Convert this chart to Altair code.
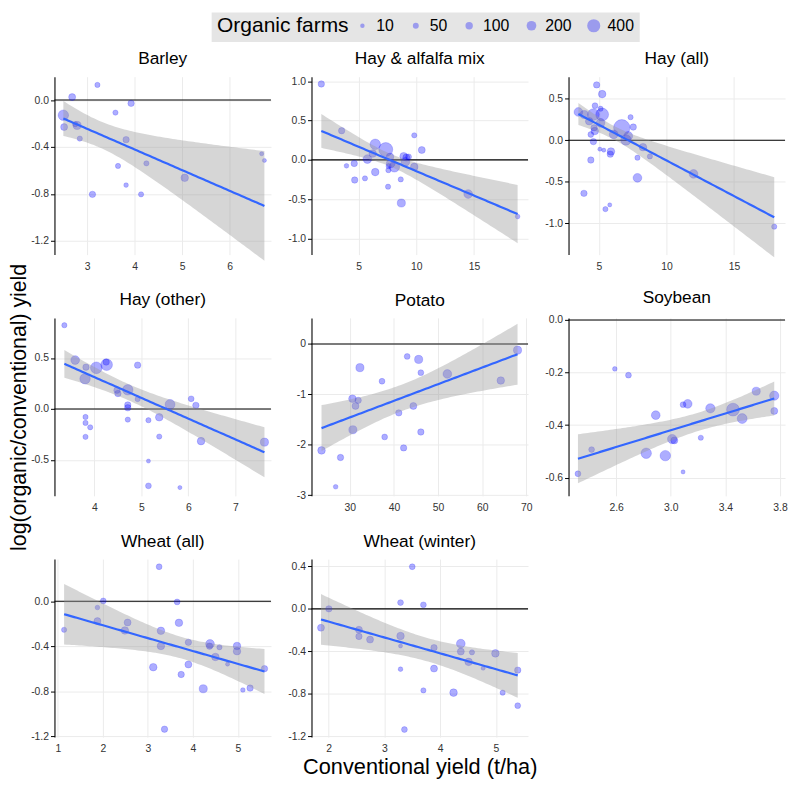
import numpy as np
import pandas as pd
import altair as alt

FONT = "Liberation Sans"

# ---------------- data ----------------
barley_x = [2.50, 2.685, 3.217, 3.925, 3.596, 2.516, 2.79, 2.75, 2.846, 3.82, 3.65, 4.247, 3.82, 3.112, 4.135, 5.053, 6.672, 6.73]
barley_y = [-0.129, 0.025, 0.129, -0.028, -0.107, -0.230, -0.216, -0.205, -0.328, -0.337, -0.561, -0.539, -0.724, -0.803, -0.803, -0.662, -0.457, -0.514]
barley_n = [240, 85, 30, 65, 30, 85, 130, 30, 30, 65, 30, 30, 16, 65, 30, 107, 5, 3]

hayalf_x = [1.77, 3.53, 3.95, 4.62, 4.66, 5.55, 5.76, 6.44, 6.44, 6.22, 7.35, 7.72, 7.78, 8.10, 7.60, 7.58, 7.55, 8.65, 8.70, 8.90, 9.13, 9.05, 9.33, 9.82, 9.82, 10.47, 14.49, 18.77]
hayalf_y = [0.966, 0.371, -0.076, -0.046, -0.257, -0.236, 0.010, 0.198, -0.156, 0.080, 0.131, 0.038, -0.046, -0.089, -0.080, -0.131, -0.342, -0.249, -0.550, 0.046, 0.030, -0.025, 0.038, -0.090, 0.312, 0.125, -0.435, -0.722]
hayalf_n = [65, 65, 16, 65, 65, 30, 155, 240, 107, 107, 460, 107, 155, 240, 30, 30, 30, 30, 130, 107, 85, 155, 47, 107, 30, 85, 155, 16]

hayall_x = [4.83, 5.24, 4.71, 3.48, 3.91, 4.59, 5.24, 5.12, 4.28, 5.12, 4.64, 4.69, 4.40, 4.59, 6.69, 6.09, 7.17, 7.00, 7.34, 7.54, 8.26, 8.77, 7.85, 7.85, 5.07, 5.36, 5.89, 5.84, 4.40, 3.89, 5.48, 5.80, 12.0, 17.97]
hayall_y = [0.667, 0.556, 0.417, 0.341, 0.310, 0.310, 0.310, 0.380, 0.230, 0.210, 0.150, 0.111, 0.070, -0.016, 0.151, 0.071, 0.052, 0.004, 0.278, 0.159, -0.083, -0.194, -0.210, -0.452, -0.107, -0.119, -0.135, -0.167, -0.238, -0.639, -0.829, -0.778, -0.405, -1.040]
hayall_n = [65, 107, 47, 155, 130, 307, 380, 30, 107, 155, 65, 107, 47, 65, 640, 155, 155, 240, 30, 65, 107, 30, 30, 155, 3, 3, 107, 65, 65, 65, 30, 3, 155, 30]

hayoth_x = [3.36, 3.59, 3.82, 3.80, 4.04, 4.26, 4.25, 4.92, 4.48, 4.50, 4.71, 4.92, 4.71, 4.71, 5.61, 6.06, 6.16, 3.81, 3.81, 3.91, 3.81, 4.71, 5.15, 5.38, 5.38, 6.27, 7.62, 5.15, 5.15, 5.82]
hayoth_y = [0.821, 0.480, 0.410, 0.297, 0.404, 0.434, 0.460, 0.430, 0.184, 0.152, 0.188, 0.097, 0.040, 0.012, 0.045, 0.100, 0.036, -0.078, -0.136, -0.179, -0.273, -0.104, -0.110, -0.081, -0.270, -0.315, -0.325, -0.510, -0.753, -0.770]
hayoth_n = [30, 155, 65, 240, 307, 307, 65, 65, 65, 65, 240, 30, 65, 65, 210, 47, 65, 30, 30, 30, 30, 30, 30, 107, 30, 107, 130, 3, 47, 3]

potato_x = [68.0, 64.2, 52.1, 45.6, 43.0, 46.1, 32.3, 37.3, 30.6, 31.9, 31.3, 30.7, 41.1, 44.4, 37.9, 46.1, 42.2, 23.6, 27.9, 26.8]
potato_y = [-0.124, -0.725, -0.595, -0.307, -0.248, -0.569, -0.470, -0.739, -1.085, -1.118, -1.229, -1.700, -1.366, -1.229, -1.843, -1.745, -2.060, -2.110, -2.250, -2.830]
potato_n = [130, 107, 155, 130, 47, 47, 130, 47, 107, 65, 85, 130, 65, 85, 47, 65, 65, 107, 65, 16]

soy_x = [2.59, 2.69, 2.42, 2.32, 2.82, 2.89, 2.96, 3.01, 3.026, 3.09, 3.124, 3.09, 3.22, 3.29, 3.456, 3.523, 3.626, 3.758, 3.758]
soy_y = [-0.186, -0.210, -0.493, -0.585, -0.507, -0.362, -0.516, -0.453, -0.458, -0.322, -0.319, -0.578, -0.448, -0.336, -0.341, -0.375, -0.271, -0.288, -0.346]
soy_n = [16, 47, 47, 47, 240, 155, 240, 182, 85, 47, 155, 3, 30, 182, 380, 210, 130, 182, 85]

wheat_x = [3.25, 2.01, 1.88, 3.65, 1.14, 1.88, 2.55, 2.49, 3.69, 3.29, 3.29, 3.90, 4.38, 4.37, 4.59, 4.50, 4.77, 4.98, 4.98, 3.12, 3.90, 3.74, 4.23, 5.11, 5.27, 5.59, 3.37]
wheat_y = [0.307, 0.003, -0.056, -0.006, -0.254, -0.177, -0.189, -0.260, -0.192, -0.263, -0.398, -0.366, -0.380, -0.400, -0.410, -0.496, -0.560, -0.398, -0.445, -0.587, -0.563, -0.652, -0.779, -0.790, -0.773, -0.600, -1.139]
wheat_n = [47, 47, 16, 47, 30, 85, 85, 107, 107, 107, 107, 65, 155, 65, 30, 107, 3, 107, 107, 107, 85, 65, 130, 16, 65, 65, 65]

wwin_x = [3.50, 3.29, 3.70, 2.006, 1.865, 2.545, 2.545, 2.744, 3.29, 3.29, 3.89, 4.37, 4.37, 4.57, 4.51, 4.99, 4.77, 3.29, 3.89, 3.70, 4.24, 5.12, 5.39, 5.39, 3.36]
wwin_y = [0.397, 0.059, 0.038, 0.0, -0.178, -0.197, -0.260, -0.290, -0.256, -0.350, -0.366, -0.328, -0.403, -0.410, -0.500, -0.420, -0.560, -0.569, -0.563, -0.769, -0.790, -0.790, -0.578, -0.913, -1.138]
wwin_n = [47, 47, 47, 65, 85, 85, 65, 85, 107, 3, 65, 155, 85, 30, 107, 107, 3, 16, 85, 30, 107, 30, 65, 47, 47]

crops = ["Barley", "Hay & alfalfa mix", "Hay (all)", "Hay (other)", "Potato", "Soybean", "Wheat (all)", "Wheat (winter)"]
legend_values = [10, 50, 100, 200, 400]

x_ticks = {
    "Barley": [3, 4, 5, 6], "Hay & alfalfa mix": [5, 10, 15], "Hay (all)": [5, 10, 15],
    "Hay (other)": [4, 5, 6, 7], "Potato": [30, 40, 50, 60, 70], "Soybean": [2.6, 3.0, 3.4, 3.8],
    "Wheat (all)": [1, 2, 3, 4, 5], "Wheat (winter)": [2, 3, 4, 5],
}
y_ticks = {
    "Barley": [0, -0.4, -0.8, -1.2], "Hay & alfalfa mix": [1, 0.5, 0, -0.5, -1],
    "Hay (all)": [0.5, 0, -0.5, -1], "Hay (other)": [0.5, 0, -0.5], "Potato": [0, -1, -2, -3],
    "Soybean": [0, -0.2, -0.4, -0.6], "Wheat (all)": [0, -0.4, -0.8, -1.2],
    "Wheat (winter)": [0.4, 0, -0.4, -0.8, -1.2],
}

# ---------------- panel settings ----------------
series = {
    "Barley": (barley_x, barley_y, barley_n), "Hay & alfalfa mix": (hayalf_x, hayalf_y, hayalf_n),
    "Hay (all)": (hayall_x, hayall_y, hayall_n), "Hay (other)": (hayoth_x, hayoth_y, hayoth_n),
    "Potato": (potato_x, potato_y, potato_n), "Soybean": (soy_x, soy_y, soy_n),
    "Wheat (all)": (wheat_x, wheat_y, wheat_n), "Wheat (winter)": (wwin_x, wwin_y, wwin_n),
}
x_dom = {
    "Barley": [2.313, 6.868], "Hay & alfalfa mix": [0.92, 19.67], "Hay (all)": [2.75, 18.77],
    "Hay (other)": [3.149, 7.759], "Potato": [21.33, 70.37], "Soybean": [2.251, 3.837],
    "Wheat (all)": [0.926, 5.734], "Wheat (winter)": [1.695, 5.574],
}
y_dom = {
    "Barley": [-1.316, 0.199], "Hay & alfalfa mix": [-1.207, 1.059], "Hay (all)": [-1.377, 0.766],
    "Hay (other)": [-0.851, 0.893], "Potato": [-3.01, 0.516], "Soybean": [-0.669, 0.008],
    "Wheat (all)": [-1.209, 0.375], "Wheat (winter)": [-1.209, 0.469],
}
x_fmt = {"Soybean": ".1f"}
y_fmt = {"Potato": "d"}


def t975(df):
    z = 1.959964
    return (z + (z**3 + z) / (4 * df) + (5 * z**5 + 16 * z**3 + 3 * z) / (96 * df**2)
            + (3 * z**7 + 19 * z**5 + 17 * z**3 - 15 * z) / (384 * df**3))


def smooth(x, y, w, n=80):
    """Weighted linear fit with 95% confidence band (as geom_smooth(method='lm', weight=...))."""
    x = np.asarray(x, float)
    y = np.asarray(y, float)
    w = np.asarray(w, float)
    X = np.column_stack([np.ones_like(x), x])
    XtW = X.T * w
    XtWXi = np.linalg.inv(XtW @ X)
    beta = XtWXi @ (XtW @ y)
    resid = y - X @ beta
    dfree = len(x) - 2
    s2 = np.sum(w * resid**2) / dfree
    xs = np.linspace(x.min(), x.max(), n)
    Xs = np.column_stack([np.ones_like(xs), xs])
    fit = Xs @ beta
    se = np.sqrt(s2 * np.einsum("ij,jk,ik->i", Xs, XtWXi, Xs))
    t = t975(dfree)
    return pd.DataFrame({"x": xs, "fit": fit, "lo": fit - t * se, "hi": fit + t * se})


def lab(fmt):
    return "replace(format(datum.value, '%s'), '\u2212', '-')" % fmt


YTITLE = "log(organic/conventional) yield"
XTITLE = "Conventional yield (t/ha)"
W, H = 219, 180

size_scale = alt.Scale(domain=[10, 400], range=[20, 177], zero=False)
legend = alt.Legend(
    orient="none", legendX=159, legendY=-65, direction="horizontal", titleOrient="left",
    values=legend_values, fillColor="#e5e5e5", padding=5.5,
    titleFont=FONT, titleFontSize=21.2, titleFontWeight="normal", titleColor="black", titlePadding=5,
    labelFont=FONT, labelFontSize=16, labelColor="black", labelOffset=6, columnPadding=14,
    symbolType="circle", symbolFillColor="#0000ff", symbolOpacity=0.32,
    symbolStrokeColor="#0000ff", symbolStrokeWidth=0,
)


def panel(name, col, row):
    xv, yv, nv = series[name]
    pts = pd.DataFrame({"x": xv, "y": yv, "n": nv})
    sm = smooth(xv, yv, nv)
    xs = alt.Scale(domain=x_dom[name], nice=False, zero=False)
    ys = alt.Scale(domain=y_dom[name], nice=False, zero=False)
    ext = 24 if col == 0 else 30
    yaxis_kw = dict(
        values=y_ticks[name], labelExpr=lab(y_fmt.get(name, ".1f")), domain=True, domainColor="black",
        domainWidth=1.1, ticks=True, tickColor="black", tickSize=4, tickWidth=1, labelPadding=2,
        labelFont=FONT, labelFontSize=10.5, labelColor="#333333", grid=True, gridColor="#ebebeb",
        gridWidth=1, minExtent=ext, maxExtent=ext,
    )
    title_offset = 9
    if col == 0 and row == 1:
        yaxis = alt.Axis(title=YTITLE, titleFont=FONT, titleFontSize=21.5, titleFontWeight="normal",
                         titleColor="black", titlePadding=0, **yaxis_kw)
        title_offset = -46  # the long axis title overhangs the panel top
    else:
        yaxis = alt.Axis(title=None, **yaxis_kw)
    xaxis_kw = dict(
        values=x_ticks[name], labelExpr=lab(x_fmt.get(name, "d")), domain=False, ticks=False,
        labelPadding=7, labelFont=FONT, labelFontSize=10.5, labelColor="#333333", grid=True,
        gridColor="#ebebeb", gridWidth=1, minExtent=20, maxExtent=20,
    )
    if row == 2 and col == 1:
        xaxis = alt.Axis(title=XTITLE, titleFont=FONT, titleFontSize=22, titleFontWeight="normal",
                         titleColor="black", titlePadding=0, **xaxis_kw)
    else:
        xaxis = alt.Axis(title=None, **xaxis_kw)

    X = alt.X("x:Q", scale=xs, axis=xaxis)
    hline = alt.Chart(pd.DataFrame({"y": [0.0]})).mark_rule(color="black", strokeWidth=1.1).encode(
        y=alt.Y("y:Q", scale=ys, axis=yaxis))
    points = alt.Chart(pts).mark_circle(
        fill="#0000ff", fillOpacity=0.32, stroke="#0000ff", strokeOpacity=0.3, strokeWidth=0.6
    ).encode(
        x=X, y=alt.Y("y:Q", scale=ys, axis=yaxis),
        size=alt.Size("n:Q", scale=size_scale, legend=legend, title="Organic farms"),
    )
    band = alt.Chart(sm).mark_area(color="#999999", opacity=0.4).encode(
        x=X, y=alt.Y("lo:Q", scale=ys, axis=yaxis), y2="hi:Q")
    line = alt.Chart(sm).mark_line(color="#3366FF", strokeWidth=2.2).encode(
        x=X, y=alt.Y("fit:Q", scale=ys, axis=yaxis))
    return alt.layer(hline, points, band, line).properties(
        width=W, height=H,
        title=alt.TitleParams(name, font=FONT, fontSize=17.5, fontWeight="normal", color="black",
                              offset=title_offset, anchor="middle", frame="group"),
    )


panels = [panel(nm, i % 3, i // 3) for i, nm in enumerate(crops)]

chart = alt.concat(
    *panels, columns=3, bounds="flush", spacing={"row": 64, "column": 41}
).resolve_scale(
    x="independent", y="independent", size="shared"
).properties(padding=0).configure_view(stroke="transparent")

chart.save("out.html", embed_options={"renderer": "svg", "actions": False})
